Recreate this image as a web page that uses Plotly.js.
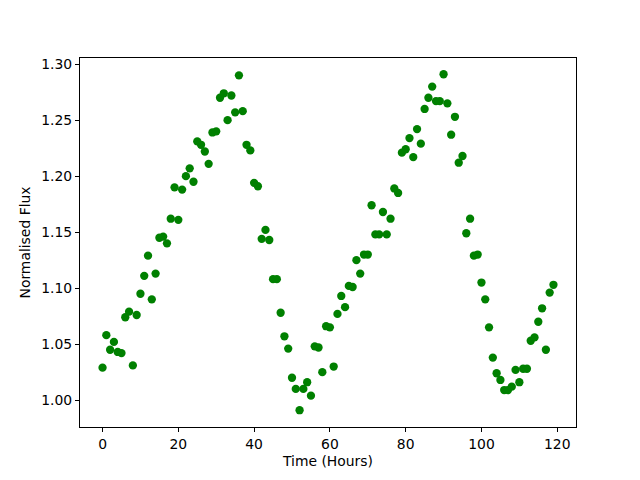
<!DOCTYPE html>
<html><head><meta charset="utf-8">
<script src="https://cdn.plot.ly/plotly-3.0.1.min.js"></script>
<style>html,body{margin:0;padding:0;background:#fff}</style>
</head><body>
<div id="plot" style="width:640px;height:480px"></div>
<script>
const timeHours = [];
for (let i = 0; i < 120; i++) timeHours.push(i);
const flux = [
1.029,1.058,1.045,1.052,1.043,1.042,1.074,1.079,1.031,1.076,
1.095,1.111,1.129,1.090,1.113,1.145,1.146,1.140,1.162,1.190,
1.161,1.188,1.200,1.207,1.195,1.231,1.228,1.222,1.211,1.239,
1.240,1.270,1.274,1.250,1.272,1.257,1.290,1.258,1.228,1.223,
1.194,1.191,1.144,1.152,1.143,1.108,1.108,1.078,1.057,1.046,
1.020,1.010,0.991,1.010,1.016,1.004,1.048,1.047,1.025,1.066,
1.065,1.030,1.077,1.093,1.083,1.102,1.101,1.125,1.113,1.130,
1.130,1.174,1.148,1.148,1.168,1.148,1.162,1.189,1.185,1.221,
1.224,1.234,1.217,1.242,1.229,1.260,1.270,1.280,1.267,1.267,
1.291,1.265,1.237,1.253,1.212,1.218,1.149,1.162,1.129,1.130,
1.105,1.090,1.065,1.038,1.024,1.018,1.009,1.009,1.012,1.027,
1.016,1.028,1.028,1.053,1.056,1.070,1.082,1.045,1.096,1.103
];
const xTicks = [0,20,40,60,80,100,120];
const yTicks = [1.00,1.05,1.10,1.15,1.20,1.25,1.30];
const font = {family:'DejaVu Sans', size:13.9, color:'#000'};
const axisCommon = {
  showline:true, linecolor:'#000', linewidth:1, mirror:true,
  ticks:'outside', ticklen:4, tickwidth:1, tickcolor:'#000',
  showgrid:false, zeroline:false, tickfont:font
};
Plotly.newPlot('plot', [{
  x: timeHours, y: flux, type:'scatter', mode:'markers',
  marker:{color:'#008000', size:8.3}
}], {
  width:640, height:480,
  margin:{l:80, r:64, t:58, b:53},
  paper_bgcolor:'#fff', plot_bgcolor:'#fff',
  showlegend:false,
  xaxis: Object.assign({}, axisCommon, {
    range:[-5.95,124.95], tickvals:xTicks, ticktext:xTicks.map(String),
    title:{text:'Time (Hours)', font:font, standoff:5}
  }),
  yaxis: Object.assign({}, axisCommon, {
    range:[0.976,1.3055], tickvals:yTicks, ticktext:yTicks.map(v=>v.toFixed(2)),
    title:{text:'Normalised Flux', font:font, standoff:7}
  })
}, {displayModeBar:false, staticPlot:true});
</script>
</body></html>
